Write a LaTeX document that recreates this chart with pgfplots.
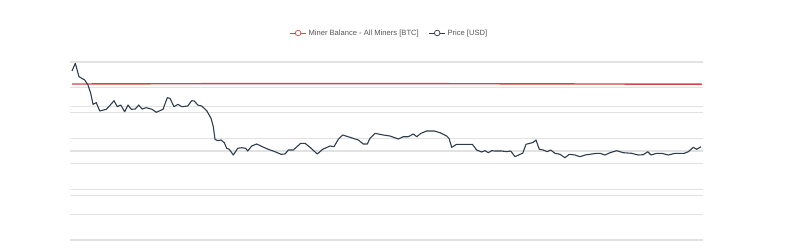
\documentclass[border=0pt]{standalone}
\usepackage{pgfplots}
\pgfplotsset{compat=1.18}
\usepackage{fontspec}
\setmainfont{Liberation Sans}
\definecolor{minerred}{HTML}{D64545}
\definecolor{priceblue}{HTML}{2E3D4D}
\definecolor{gridgray}{HTML}{E2E2E2}
\definecolor{legtext}{HTML}{555555}
\begin{document}
\begin{tikzpicture}
\path[use as bounding box] (0,0) rectangle (802pt,247pt);
\begin{axis}[
  at={(70pt,7pt)}, anchor=south west,
  scale only axis, width=633pt, height=178pt,
  xmin=70, xmax=703, ymin=0, ymax=178,
  axis line style={draw=none},
  ticks=none, xtick=\empty,
  ytick={0,25.43,50.86,76.29,101.71,127.14,152.57,178},
  extra y ticks={44.5,89,133.5},
  extra y tick style={grid=major, yticklabels={}},
  yticklabels={}, ymajorgrids,
  grid style={gridgray, line width=1.2pt},
  clip=false,
  legend columns=2,
  legend style={draw=none, fill=none, font=\fontsize{7.6}{9}\selectfont, text=legtext,
    at={(axis description cs:0.5,1)}, anchor=center, yshift=29pt, xshift=3pt,
    /tikz/every even column/.append style={column sep=8pt}},
  legend image code/.code={
    \draw[#1, line width=0.8pt] (0pt,0pt) -- (16pt,0pt);
    \draw[#1, fill=white, line width=0.7pt] (8pt,0pt) circle (2.8pt);
  },
]
\addplot[minerred, line width=1.4pt] coordinates {
(72,156) (150,156.2) (200,156.3) (300,156.4) (400,156.4) (500,156.2) (600,156) (702,155.8)
};
\addlegendentry{Miner Balance - All Miners [BTC]}
\addplot[priceblue, line width=1.1pt, line join=round] coordinates {
(72,169) (75.3,176.7) (79,163.3) (84.7,160) (88,155) (90.7,146.7) (93,135.7) (96.3,137.3)
(99.7,129) (106.3,130.7) (109.7,134.3) (114,139.3) (117.3,133.3) (120.7,135) (124.7,128.3)
(128,135) (131.3,130.7) (135.3,131) (138.7,135) (142,131) (146.3,132.3) (152,130.7)
(156.3,127.7) (163,130.7) (167.3,142.3) (170,141.7) (174,133.3) (178,135.7) (181.7,133.3)
(187.7,134) (191.7,139.3) (194.3,139) (197.7,135) (201.7,134) (206.7,129.3) (211,121.7)
(213.3,113.3) (215,100.7) (217.7,99.3) (221,100) (224.3,97.3) (226.7,91.7) (229.3,90.7)
(233.3,85) (237.7,91.7) (241.7,92.3) (245.7,91.7) (247.7,89) (251.7,94) (256.7,96)
(262.3,93.3) (268.3,90.7) (275,88.3) (281,85.7) (285,86) (288.3,90) (293.3,90)
(300.7,96.7) (305,96.7) (310,92.7) (317.3,86) (322.7,90.7) (330,94) (334,93.3)
(338.3,100.7) (342.7,105) (350,102.7) (358.3,100) (363.3,96) (367.3,96) (370,101.7)
(375,106.7) (383.3,105) (390,104) (398.3,101) (403.3,103.3) (408.3,103.3) (413.3,106)
(416.7,103.3) (421,106.7) (426.7,109) (434.3,109) (440,107.3) (446.7,104) (449,101.7)
(451.7,92.7) (456.7,95.7) (465,95.7) (472.3,95.7) (476.7,90) (481.7,88) (485,89.3)
(488.3,87.3) (491.7,89.3) (495,89) (501.7,89) (506.7,88.3) (510.7,89) (515,83.3)
(520,85.7) (522.7,86.7) (526,95.7) (530,96.7) (533.3,97.7) (536,100) (539.3,90.7)
(543.3,90) (547.3,88.3) (550.7,90) (555,86.7) (560,85.7) (565,82.3) (569.3,85.7)
(575,85) (580,83.3) (585,85) (590,85.7) (596.7,86.7) (600,86.7) (605,85) (610,87.3)
(616.7,89.3) (623.3,87.3) (631.7,86.7) (638.3,85) (643.3,85.3) (647.7,88.3) (651,85)
(656.7,86.7) (661.7,86.7) (668.3,85) (675,86.7) (684.3,86.7) (688.3,88.3) (693.3,92.7)
(696.7,90.7) (701,93.3)
};
\addlegendentry{Price [USD]}
\end{axis}
\end{tikzpicture}
\end{document}
